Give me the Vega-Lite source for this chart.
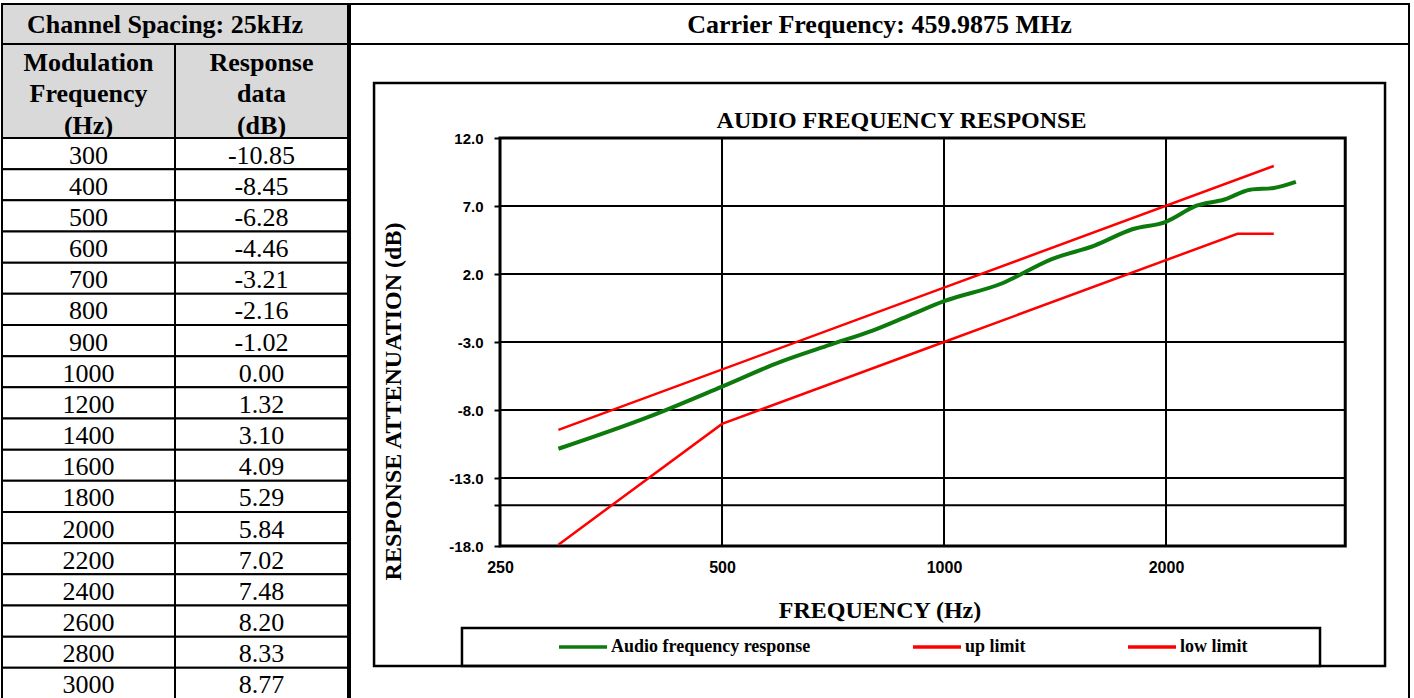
{
  "$schema": "https://vega.github.io/schema/vega-lite/v6.json",
  "background": "white",
  "padding": {"left": 0, "top": 3, "right": 0, "bottom": 0},
  "config": {
    "view": {"stroke": "black", "strokeWidth": 2},
    "font": "Liberation Serif",
    "text": {"font": "Liberation Serif", "color": "black"}
  },
  "datasets": {
    "curves": [
      {"s": "Audio frequency response", "f": 300, "db": -10.85},
      {"s": "Audio frequency response", "f": 400, "db": -8.45},
      {"s": "Audio frequency response", "f": 500, "db": -6.28},
      {"s": "Audio frequency response", "f": 600, "db": -4.46},
      {"s": "Audio frequency response", "f": 700, "db": -3.21},
      {"s": "Audio frequency response", "f": 800, "db": -2.16},
      {"s": "Audio frequency response", "f": 900, "db": -1.02},
      {"s": "Audio frequency response", "f": 1000, "db": 0.0},
      {"s": "Audio frequency response", "f": 1200, "db": 1.32},
      {"s": "Audio frequency response", "f": 1400, "db": 3.10},
      {"s": "Audio frequency response", "f": 1600, "db": 4.09},
      {"s": "Audio frequency response", "f": 1800, "db": 5.29},
      {"s": "Audio frequency response", "f": 2000, "db": 5.84},
      {"s": "Audio frequency response", "f": 2200, "db": 7.02},
      {"s": "Audio frequency response", "f": 2400, "db": 7.48},
      {"s": "Audio frequency response", "f": 2600, "db": 8.20},
      {"s": "Audio frequency response", "f": 2800, "db": 8.33},
      {"s": "Audio frequency response", "f": 3000, "db": 8.77},
      {"s": "up limit", "f": 300, "db": -9.46},
      {"s": "up limit", "f": 1000, "db": 1.0},
      {"s": "up limit", "f": 2800, "db": 9.94},
      {"s": "low limit", "f": 300, "db": -17.9},
      {"s": "low limit", "f": 500, "db": -9.02},
      {"s": "low limit", "f": 1000, "db": -3.0},
      {"s": "low limit", "f": 2500, "db": 4.96},
      {"s": "low limit", "f": 2800, "db": 4.96}
    ]
  },
  "hconcat": [
    {
      "spacing": 0,
      "bounds": "flush",
      "vconcat": [
        {
          "width": 346,
          "height": 40,
          "view": {"fill": "#d9d9d9", "stroke": "black", "strokeWidth": 2},
          "data": {"values": [{"t": "Channel Spacing: 25kHz"}]},
          "mark": {"type": "text", "fontSize": 26, "fontWeight": "bold", "align": "center", "baseline": "middle", "dx": -10, "dy": 1},
          "encoding": {"text": {"field": "t"}}
        },
        {
          "width": 346,
          "height": 94,
          "data": {"values": [
            {"col": "a", "t": ["Modulation", "Frequency", "(Hz)"]},
            {"col": "b", "t": ["Response", "data", "(dB)"]}
          ]},
          "encoding": {
            "x": {"field": "col", "type": "nominal", "axis": null, "scale": {"paddingInner": 0, "paddingOuter": 0}}
          },
          "layer": [
            {"mark": {"type": "rect", "fill": "#d9d9d9", "stroke": "black", "strokeWidth": 2}},
            {"mark": {"type": "text", "fontSize": 26, "fontWeight": "bold", "lineHeight": 31.5, "baseline": "middle", "dy": -28.5}, "encoding": {"text": {"field": "t"}}}
          ]
        },
        {
          "width": 346,
          "height": 561,
          "data": {"name": "curves"},
          "transform": [
            {"filter": "datum.s === 'Audio frequency response'"},
            {"calculate": "'' + datum.f", "as": "a"},
            {"calculate": "replace(format(datum.db, '.2f'), '\u2212', '-')", "as": "b"},
            {"fold": ["a", "b"], "as": ["col", "txt"]}
          ],
          "encoding": {
            "x": {"field": "col", "type": "nominal", "axis": null, "scale": {"paddingInner": 0, "paddingOuter": 0}},
            "y": {"field": "f", "type": "ordinal", "axis": null, "scale": {"paddingInner": 0, "paddingOuter": 0}}
          },
          "layer": [
            {"mark": {"type": "rect", "fill": "white", "stroke": "black", "strokeWidth": 2}},
            {"mark": {"type": "text", "fontSize": 26, "baseline": "middle", "dy": 2}, "encoding": {"text": {"field": "txt"}}}
          ]
        }
      ]
    },
    {
      "spacing": 0,
      "bounds": "flush",
      "vconcat": [
        {
          "width": 1059,
          "height": 40,
          "view": {"stroke": "black", "strokeWidth": 2},
          "data": {"values": [{"t": "Carrier Frequency: 459.9875 MHz"}]},
          "mark": {"type": "text", "fontSize": 26, "fontWeight": "bold", "align": "center", "baseline": "middle", "dy": 1},
          "encoding": {"text": {"field": "t"}}
        },
        {
          "width": 1059,
          "height": 655,
          "view": {"stroke": "black", "strokeWidth": 2},
          "title": {"text": "AUDIO FREQUENCY RESPONSE", "font": "Liberation Serif", "fontSize": 24, "fontWeight": "bold", "color": "black", "anchor": "middle", "frame": "group", "offset": -89, "dx": 22},
          "layer": [
            {
              "data": {"values": [{}]},
              "mark": {"type": "rect", "filled": false, "stroke": "black", "strokeWidth": 2.5},
              "encoding": {
                "x": {"datum": 168.7, "type": "quantitative"},
                "x2": {"datum": 3963},
                "y": {"datum": 16.04, "type": "quantitative"},
                "y2": {"datum": -26.82}
              }
            },
            {
              "data": {"values": [{}]},
              "mark": {"type": "rect", "filled": false, "stroke": "black", "strokeWidth": 2.5},
              "encoding": {
                "x": {"datum": 222, "type": "quantitative"},
                "x2": {"datum": 3235},
                "y": {"datum": -24.03, "type": "quantitative"},
                "y2": {"datum": -26.82}
              }
            },
            {
              "data": {"values": [{"f": 500}, {"f": 1000}, {"f": 2000}]},
              "mark": {"type": "rule", "stroke": "black", "strokeWidth": 2},
              "encoding": {
                "x": {"field": "f", "type": "quantitative"},
                "y": {"datum": -18, "type": "quantitative"},
                "y2": {"datum": 12}
              }
            },
            {
              "data": {"values": [{"db": 7}, {"db": 2}, {"db": -3}, {"db": -8}, {"db": -13}, {"db": -15}]},
              "mark": {"type": "rule", "stroke": "black", "strokeWidth": 2},
              "encoding": {
                "y": {"field": "db", "type": "quantitative"},
                "x": {"datum": 250, "type": "quantitative"},
                "x2": {"datum": 3500}
              }
            },
            {
              "data": {"values": [{}]},
              "mark": {"type": "rect", "filled": false, "stroke": "black", "strokeWidth": 3},
              "encoding": {
                "x": {"datum": 250, "type": "quantitative"},
                "x2": {"datum": 3500},
                "y": {"datum": -18, "type": "quantitative"},
                "y2": {"datum": 12}
              }
            },
            {
              "data": {"name": "curves"},
              "transform": [{"filter": "datum.s !== 'Audio frequency response'"}],
              "mark": {"type": "line", "strokeWidth": 2.5},
              "encoding": {
                "x": {"field": "f", "type": "quantitative"},
                "y": {"field": "db", "type": "quantitative"},
                "color": {"field": "s", "type": "nominal"}
              }
            },
            {
              "data": {"name": "curves"},
              "transform": [{"filter": "datum.s === 'Audio frequency response'"}],
              "mark": {"type": "line", "strokeWidth": 4, "interpolate": "monotone"},
              "encoding": {
                "x": {
                  "field": "f", "type": "quantitative",
                  "scale": {"type": "log", "domain": [156.5, 4271], "nice": false},
                  "axis": {
                    "orient": "bottom", "offset": -153, "values": [250, 500, 1000, 2000], "format": "d",
                    "domain": false, "ticks": false, "tickSize": 0, "grid": false,
                    "labelFont": "Liberation Sans", "labelFontWeight": "bold", "labelFontSize": 16, "labelColor": "black",
                    "labelPadding": 13, "labelFlush": false, "labelOverlap": false,
                    "title": "FREQUENCY (Hz)", "titleFont": "Liberation Serif", "titleFontSize": 24, "titleFontWeight": "bold", "titleColor": "black", "titlePadding": 23
                  }
                },
                "y": {
                  "field": "db", "type": "quantitative",
                  "scale": {"domain": [-29.25, 18.912], "nice": false, "zero": false},
                  "axis": {
                    "orient": "left", "offset": -150, "values": [12, 7, 2, -3, -8, -13, -15, -18],
                    "domain": false, "ticks": true, "tickSize": 6, "tickWidth": 2, "tickColor": "black", "grid": false,
                    "labelExpr": "datum.value === -15 ? '' : replace(format(datum.value, '.1f'), '\u2212', '-')",
                    "labelFont": "Liberation Sans", "labelFontWeight": "bold", "labelFontSize": 15, "labelColor": "black", "labelPadding": 11,
                    "title": "RESPONSE ATTENUATION (dB)", "titleFont": "Liberation Serif", "titleFontSize": 24, "titleFontWeight": "bold", "titleColor": "black",
                    "titleX": -95, "titleY": 357
                  }
                },
                "color": {
                  "field": "s", "type": "nominal",
                  "scale": {"domain": ["Audio frequency response", "up limit", "low limit"], "range": ["#0c7a0c", "#ff0000", "#ff0000"]},
                  "legend": {
                    "orient": "none", "legendX": 555, "legendY": 617, "direction": "horizontal", "title": null,
                    "symbolType": "stroke", "symbolSize": 2304, "symbolStrokeWidth": 3.5,
                    "labelFont": "Liberation Serif", "labelFontWeight": "bold", "labelFontSize": 18, "labelColor": "black",
                    "labelOffset": 2, "labelLimit": 0, "columnPadding": 95, "padding": 0
                  }
                }
              }
            }
          ]
        }
      ]
    }
  ],
  "spacing": -2
}
